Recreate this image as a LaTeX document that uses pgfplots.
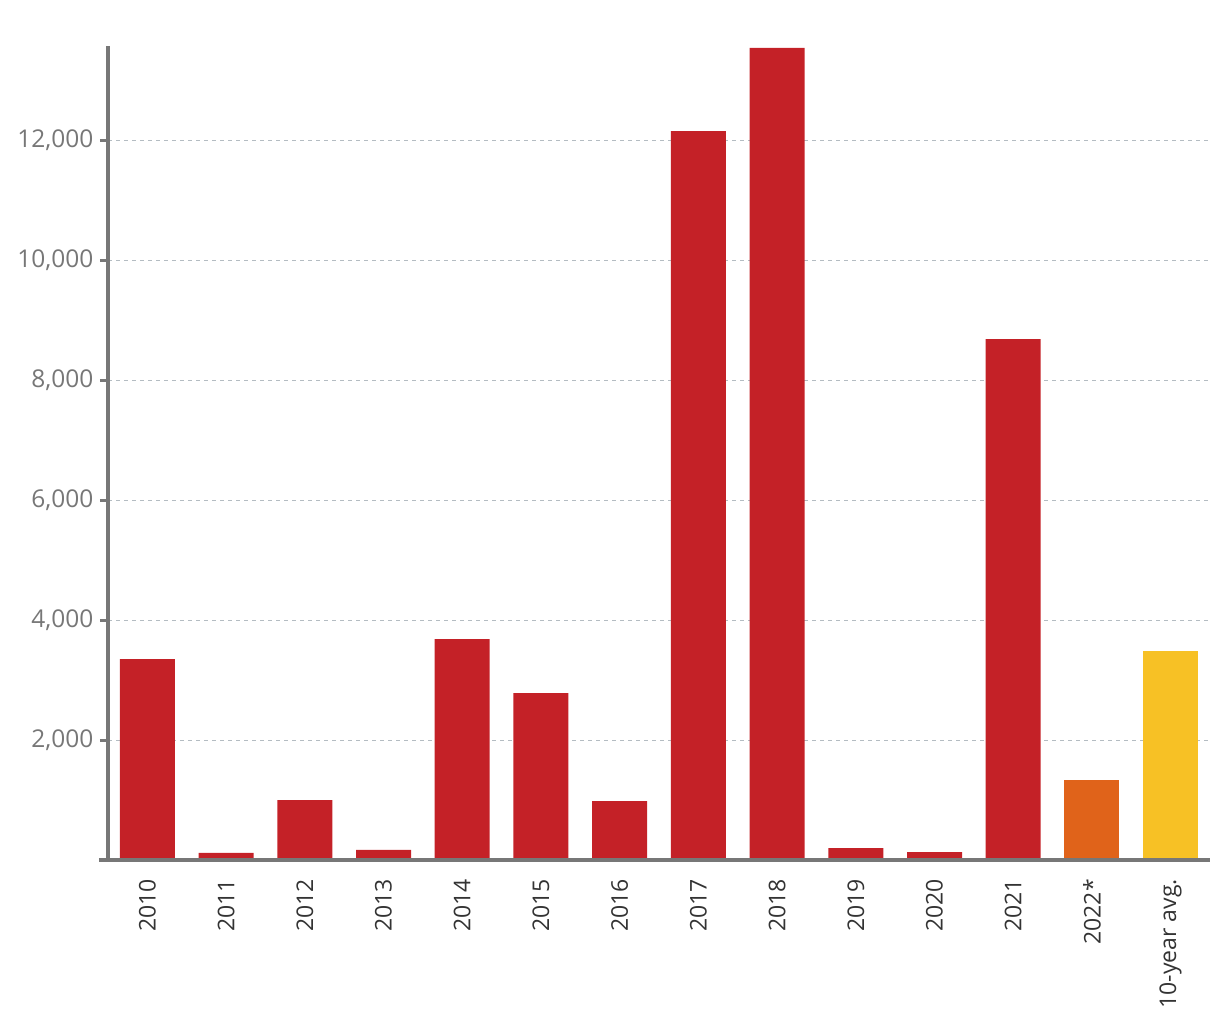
\documentclass[border=0pt]{standalone}
\usepackage{fontspec}
\setmainfont{Open Sans}
\usepackage{pgfplots}
\pgfplotsset{compat=1.18}
\definecolor{barred}{HTML}{C42127}
\definecolor{barorange}{HTML}{E0631A}
\definecolor{baryellow}{HTML}{F7C125}
\definecolor{axisgray}{HTML}{777777}
\definecolor{gridc}{HTML}{B4BCC2}
\definecolor{xlab}{HTML}{333333}
\begin{document}
\begin{tikzpicture}
\begin{axis}[
  scale only axis,
  width=1102pt, height=814pt,
  xmin=-0.5, xmax=13.5,
  ymin=0, ymax=13570,
  axis lines=left,
  axis line style={draw=axisgray, line width=3.5pt, -},
  ybar, bar width=55pt, bar shift=0pt,
  xtick={0,...,13},
  xticklabels={2010,2011,2012,2013,2014,2015,2016,2017,2018,2019,2020,2021,2022*,10-year avg.},
  xticklabel style={rotate=90, anchor=east, font=\fontsize{23}{27}\selectfont, text=xlab, inner sep=0pt},
  x tick style={draw=none},
  xtick align=outside,
  ytick={2000,4000,6000,8000,10000,12000},
  scaled y ticks=false,
  yticklabel style={font=\fontsize{24.5}{28}\selectfont, text=axisgray, /pgf/number format/fixed, /pgf/number format/1000 sep={,}},
  y tick style={draw=axisgray, line width=3pt},
  ytick align=outside,
  major tick length=8pt,
  /pgf/number format/assume math mode=true,
  ymajorgrids,
  grid style={gridc, line width=1pt, dash pattern=on 4pt off 4pt},
  xticklabel shift=11pt,
  yticklabel shift=3pt,
  clip=false,
]
\addplot[fill=barred, draw=none] coordinates {(0,3350) (1,117) (2,1000) (3,167) (4,3683) (5,2783) (6,983) (7,12150) (8,13540) (9,200) (10,133) (11,8683)};
\addplot[fill=barorange, draw=none] coordinates {(12,1333)};
\addplot[fill=baryellow, draw=none] coordinates {(13,3483)};
\draw[axisgray, line width=3.5pt] ([xshift=-9pt]rel axis cs:0,0) -- (rel axis cs:1,0);
\end{axis}
\path[use as bounding box] ([xshift=-108pt, yshift=-160pt]current axis.south west) rectangle ([xshift=10pt, yshift=46pt]current axis.north east);
\end{tikzpicture}
\end{document}
